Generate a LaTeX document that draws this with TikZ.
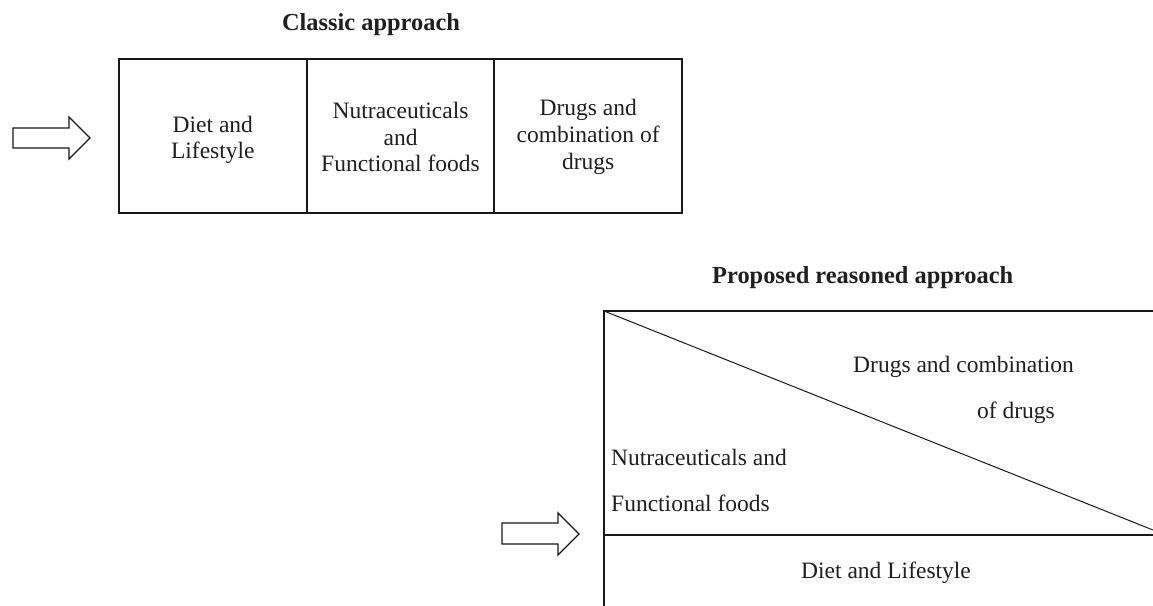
\documentclass[tikz,border=0pt]{standalone}
\usepackage{fontspec}
\setmainfont{Liberation Serif}
\begin{document}
\begin{tikzpicture}[x=1pt,y=-1pt,
  txt/.style={font=\fontsize{23.5}{26.7}\selectfont, inner sep=0pt, align=center, text=black!88},
  ttl/.style={font=\fontsize{24.4}{28}\selectfont\bfseries, inner sep=0pt, text=black!88},
  cell/.style={draw=black!90, line width=2pt, minimum width=187.7pt, minimum height=154pt, inner sep=0pt, outer sep=0pt, anchor=north west},
  frame/.style={draw=black!90, line width=2pt},
  thin/.style={draw=black!90, line width=1pt},
  hollow/.style={draw=black!90, line width=1.3pt, line join=miter}]
\useasboundingbox (0,0) rectangle (1153,605);
\clip (0,0) rectangle (1153,605);

% ---------- Classic approach ----------
\node[ttl] (t1) at (371,25) {Classic approach};
\node[cell] (c1) at (119,59) {};
\node[cell] (c2) at (306.7,59) {};
\node[cell] (c3) at (494.3,59) {};
\node[txt] (c1t) at ([yshift=-4pt]c1.center) {Diet and\\Lifestyle};
\node[txt] (c2t) at ([yshift=-1pt]c2.center) {Nutraceuticals\\and\\Functional foods};
\node[txt] (c3t) at ([yshift=-1pt]c3.center) {Drugs and\\combination of\\drugs};
\draw[hollow] (13,128) -- (69,128) -- (69,117) -- (90,138) -- (69,159) -- (69,148) -- (13,148) -- cycle;

% ---------- Proposed reasoned approach ----------
\node[ttl, anchor=west] (t2) at (712,278) {Proposed reasoned approach};
\coordinate (tl) at (604,311);
\coordinate (tr) at (1160,311);
\coordinate (ml) at (604,535);
\coordinate (mr) at (1160,535);
\coordinate (bl) at (604,610);
\coordinate (dr) at (1153,530);
\draw[frame] (tr) -- (tl) -- (bl);
\draw[frame] (ml) -- (mr);
\draw[thin] (tl) -- (dr);
\node[txt, anchor=west] (p1) at (853,367) {Drugs and combination};
\node[txt, anchor=west] (p2) at (977,413) {of drugs};
\node[txt, anchor=west] (p3) at (611,457) {Nutraceuticals and};
\node[txt, anchor=west] (p4) at (611,503) {Functional foods};
\node[txt, anchor=west] (p5) at (801,573) {Diet and Lifestyle};
\draw[hollow] (502,523) -- (558,523) -- (558,513) -- (579,534) -- (558,555) -- (558,544) -- (502,544) -- cycle;
\end{tikzpicture}
\end{document}
